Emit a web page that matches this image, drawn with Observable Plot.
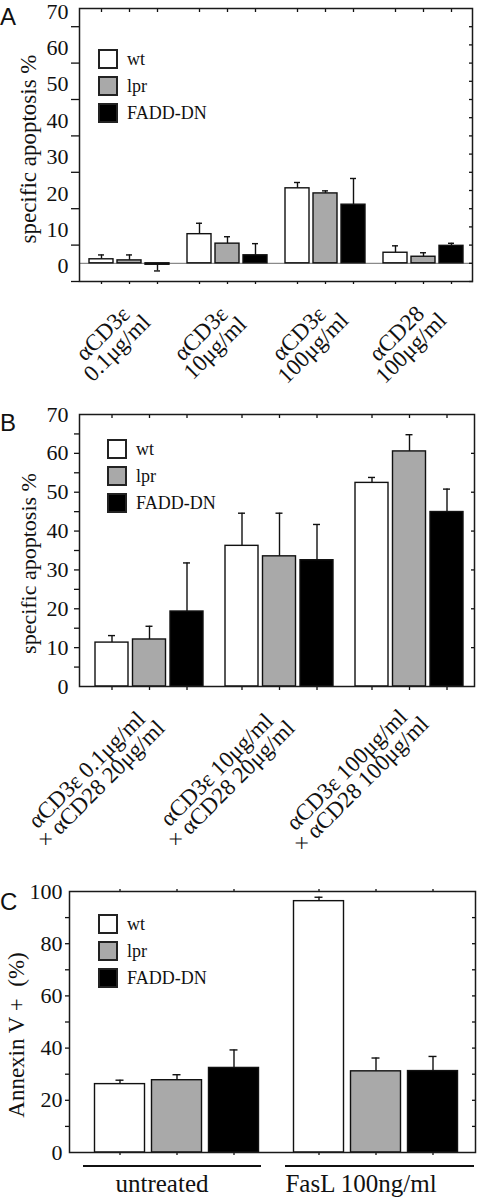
<!DOCTYPE html>
<html><head><meta charset="utf-8">
<script src="https://cdn.jsdelivr.net/npm/d3@7"></script>
<script src="https://cdn.jsdelivr.net/npm/@observablehq/plot@0.6"></script>
<style>
html,body{margin:0;padding:0;background:#fff;}
#root{position:relative;width:485px;height:1200px;overflow:hidden;font-family:"Liberation Serif",serif;color:#111;}
.panel{position:absolute;left:0;}
.letter{position:absolute;left:0;font-family:"Liberation Sans",Arial,sans-serif;font-size:24px;line-height:1;color:#111;}
.legend{position:absolute;font-family:"Liberation Serif",serif;font-size:18px;color:#111;}
.row{display:flex;align-items:center;height:20px;}
.sw{width:20px;height:20px;box-sizing:border-box;border:2px solid #222;margin-right:9px;}
</style></head><body><div id="root"></div>
<script>
const W = 485;
const seriesNames = ["wt", "lpr", "FADD-DN"];
const seriesFill = ["#ffffff", "#a9a9a9", "#000000"];

// ---- Panel A ----
const groupsA = ["αCD3ε\n0.1μg/ml", "αCD3ε\n10μg/ml", "αCD3ε\n100μg/ml", "αCD28\n100μg/ml"];
const wtA = [1.1, 8.0, 20.6, 2.9];
const wtErrA = [1.2, 3.0, 1.6, 1.9];
const lprA = [0.8, 5.4, 19.2, 1.8];
const lprErrA = [1.5, 1.9, 0.7, 1.1];
const faddA = [-0.4, 2.2, 16.1, 4.8];
const faddErrA = [1.7, 3.2, 7.2, 0.7];
const yLabelsA = [0, 10, 20, 30, 40, 50, 60, 70];
const yMinorA = [-5, 5, 15, 25, 35, 45, 55, 65];
const yRightA = [-5, 0, 5, 10, 15, 20, 25, 30, 35, 40, 45, 50, 55, 60, 65];

// ---- Panel B ----
const groupsB = ["αCD3ε 0.1μg/ml\n× αCD28 20μg/ml", "αCD3ε 10μg/ml\n× αCD28 20μg/ml", "αCD3ε 100μg/ml\n× αCD28 100μg/ml"];
const wtB = [11.3, 36.2, 52.4];
const wtErrB = [1.8, 8.4, 1.4];
const lprB = [12.1, 33.5, 60.5];
const lprErrB = [3.4, 11.1, 4.3];
const faddB = [19.3, 32.5, 44.9];
const faddErrB = [12.5, 9.2, 5.9];
const yLabelsB = [0, 10, 20, 30, 40, 50, 60, 70];
const yMinorB = [5, 10, 15, 20, 25, 30, 35, 40, 45, 50, 55, 60, 65];
const yRightB = [10, 20, 30, 40, 50, 60];

// ---- Panel C ----
const groupsC = ["untreated", "FasL 100ng/ml"];
const wtC = [26.2, 96.3];
const wtErrC = [1.5, 1.5];
const lprC = [27.7, 31.1];
const lprErrC = [2.1, 5.1];
const faddC = [32.4, 31.2];
const faddErrC = [6.9, 5.6];
const yLabelsC = [0, 20, 40, 60, 80, 100];
const yMinorC = [10, 20, 30, 40, 50, 60, 70, 80, 90];
const yRightC = [10, 20, 30, 40, 50, 60, 70, 80, 90];

function rows(groups, vals, errs) {
  return groups.map((g, i) => ({group: g, value: vals[i], end: vals[i] + (vals[i] < 0 ? -errs[i] : errs[i])}));
}

const FONT = '"Liberation Serif", "Times New Roman", serif';

function panel(o) {
  const bw = (W - o.ml - o.mr - o.xInL - o.xInR) / o.groups.length;
  const offs = [-o.step, 0, o.step];
  const marks = [];
  if (o.zeroLine) marks.push(Plot.ruleY([0], {stroke: "#8a8a8a", strokeWidth: 1.2}));
  o.series.forEach((d, k) => {
    marks.push(Plot.ruleX(d, {x: "group", y1: "value", y2: "end", dx: offs[k], stroke: "#111", strokeWidth: 1.4}));
    marks.push(Plot.tickY(d, {x: "group", y: "end", dx: offs[k], insetLeft: (bw - o.capW) / 2, insetRight: (bw - o.capW) / 2, stroke: "#111", strokeWidth: 1.4}));
    marks.push(Plot.barY(d, {x: "group", y: "value", dx: offs[k], insetLeft: (bw - o.barW) / 2, insetRight: (bw - o.barW) / 2, fill: seriesFill[k], stroke: "#111", strokeWidth: 1.4}));
  });
  marks.push(Plot.axisY({ticks: o.leftTicks, tickSize: o.leftLen, fill: "none", label: null, strokeWidth: 1.3}));
  marks.push(Plot.axisY({ticks: o.labelTicks, tickSize: 0, tickPadding: o.pad, dy: o.labelDy, fontSize: o.tickFont, fontFamily: FONT, label: null}));
  marks.push(Plot.axisY({anchor: "right", ticks: o.rightTicks, tickSize: -o.rightLen, fill: "none", label: null, strokeWidth: 1.3}));
  offs.forEach(dx => {
    marks.push(Plot.axisX({anchor: "bottom", tickSize: o.botLen, dx, fill: "none", label: null, strokeWidth: 1.3}));
    marks.push(Plot.axisX({anchor: "top", tickSize: o.topLen, dx, fill: "none", label: null, strokeWidth: 1.3}));
  });
  marks.push(Plot.frame({stroke: "#1a1a1a", strokeWidth: 1.5}));
  marks.push(Plot.text(o.groups, {x: d => d, text: d => d, frameAnchor: "bottom", rotate: o.catRotate, dx: o.catDx, dy: o.catDy, fontSize: o.catFont, fontFamily: FONT, lineHeight: o.catLH, lineAnchor: "middle", textAnchor: "middle", fill: "#111"}));
  marks.push(Plot.text([o.yLabel], {text: d => d, frameAnchor: "left", rotate: -90, dx: o.ylDx, dy: o.ylDy, fontSize: o.ylFont, fontFamily: FONT, textAnchor: "middle", lineAnchor: "middle", fill: "#111"}));
  if (o.extra) marks.push(...o.extra(bw));
  return Plot.plot({
    width: W, height: o.height,
    marginTop: o.mt, marginBottom: o.mb, marginLeft: o.ml, marginRight: o.mr,
    x: {type: "band", domain: o.groups, padding: 0, insetLeft: o.xInL, insetRight: o.xInR, axis: null},
    y: {domain: o.yDomain, axis: null},
    style: {fontFamily: FONT, fontSize: "22px", background: "none", overflow: "visible", color: "#111"},
    marks
  });
}

const root = document.getElementById("root");
function place(node, top) {
  const div = document.createElement("div");
  div.className = "panel";
  div.style.top = top + "px";
  div.appendChild(node);
  root.appendChild(div);
}
function letter(txt, top) {
  const d = document.createElement("div");
  d.className = "letter"; d.style.top = top + "px"; d.textContent = txt;
  root.appendChild(d);
}
function legend(left, top, gap) {
  const lg = document.createElement("div");
  lg.className = "legend"; lg.style.left = left + "px"; lg.style.top = top + "px";
  seriesNames.forEach((n, k) => {
    const r = document.createElement("div"); r.className = "row";
    r.style.marginBottom = gap + "px";
    const sw = document.createElement("div"); sw.className = "sw"; sw.style.background = seriesFill[k];
    const t = document.createElement("span"); t.textContent = n;
    r.appendChild(sw); r.appendChild(t); lg.appendChild(r);
  });
  root.appendChild(lg);
}

// Panel A
place(panel({
  groups: groupsA,
  series: [rows(groupsA, wtA, wtErrA), rows(groupsA, lprA, lprErrA), rows(groupsA, faddA, faddErrA)],
  yDomain: [-5, 70], height: 390, mt: 8, mb: 109, ml: 79, mr: 13, xInL: 1, xInR: 0,
  step: 28, barW: 24, capW: 6, zeroLine: true,
  leftTicks: yMinorA, leftLen: 8, labelTicks: yLabelsA, pad: 11, labelDy: 3, tickFont: 22,
  rightTicks: yRightA, rightLen: 4, botLen: 3, topLen: -3,
  catRotate: -45, catDx: -19, catDy: 60, catFont: 23, catLH: 0.88,
  yLabel: "specific apoptosis %", ylDx: -51, ylDy: 4, ylFont: 23
}), 0);

// Panel B
place(panel({
  groups: groupsB,
  series: [rows(groupsB, wtB, wtErrB), rows(groupsB, lprB, lprErrB), rows(groupsB, faddB, faddErrB)],
  yDomain: [0, 70], height: 460, mt: 24, mb: 164, ml: 79, mr: 11, xInL: 5, xInR: 0,
  step: 37.5, barW: 33, capW: 7, zeroLine: false,
  leftTicks: yMinorB, leftLen: 5, labelTicks: yLabelsB, pad: 11, labelDy: 0, tickFont: 22,
  rightTicks: yRightB, rightLen: 4, botLen: 4, topLen: -3,
  catRotate: -45, catDx: -55, catDy: 91, catFont: 23, catLH: 0.88,
  yLabel: "specific apoptosis %", ylDx: -51, ylDy: 13, ylFont: 22
}), 390);

// Panel C
place(panel({
  groups: groupsC,
  series: [rows(groupsC, wtC, wtErrC), rows(groupsC, lprC, lprErrC), rows(groupsC, faddC, faddErrC)],
  yDomain: [0, 100], height: 350, mt: 41, mb: 48, ml: 69, mr: 10, xInL: 8, xInR: 0,
  step: 57, barW: 50, capW: 8, zeroLine: false,
  leftTicks: yMinorC, leftLen: 4, labelTicks: yLabelsC, pad: 7, labelDy: 0, tickFont: 22,
  rightTicks: yRightC, rightLen: 4, botLen: 3, topLen: 3,
  catRotate: 0, catDx: -15, catDy: 31, catFont: 25, catLH: 1,
  yLabel: "Annexin V +\u00a0\u00a0(%)", ylDx: -53, ylDy: 13, ylFont: 23,
  extra: (bw) => [
    Plot.tickY(rows(groupsC, wtC, wtErrC).filter(d => d.group === groupsC[0]), {x: "group", y: () => 0, dy: 13.5, insetLeft: 6, insetRight: 15, stroke: "#111", strokeWidth: 2}),
    Plot.tickY(rows(groupsC, wtC, wtErrC).filter(d => d.group === groupsC[1]), {x: "group", y: () => 0, dy: 13.5, insetLeft: 9, insetRight: 1, stroke: "#111", strokeWidth: 2})
  ]
}), 850);

letter("A", 5);
letter("B", 411);
letter("C", 890);
legend(98, 49, 7);
legend(107, 439, 7);
legend(98, 914, 7);
</script></body></html>
